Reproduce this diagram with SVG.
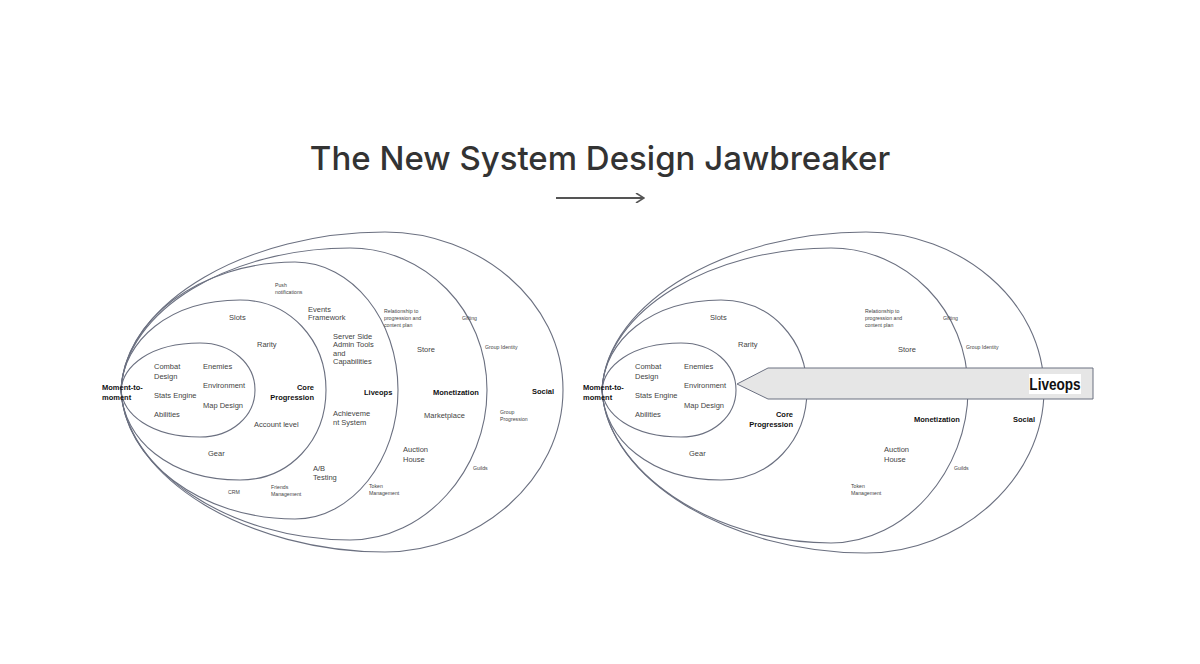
<svg xmlns="http://www.w3.org/2000/svg" width="1200" height="664" viewBox="0 0 1200 664">
<style>
.l{fill:none;stroke:#6b7080;stroke-width:1.1}
text{font-family:"Liberation Sans",Arial,sans-serif;fill:#444}
.t{font-size:7.5px}
.s{font-size:5.2px}
.b{font-size:7.5px;font-weight:bold;fill:#111}
</style>
<defs>
<marker id="ah" markerWidth="10" markerHeight="10" refX="9" refY="5" orient="auto" markerUnits="userSpaceOnUse"><path d="M1,0 L9,5 L1,10" fill="none" stroke="#555" stroke-width="1.6"/></marker>
</defs>
<rect width="1200" height="664" fill="#fff"/>
<text x="600" y="170" text-anchor="middle" style="font-family:Inter,'Liberation Sans',sans-serif;font-size:33px;font-weight:500;fill:#333">The New System Design Jawbreaker</text>
<g id="connectors"><line x1="556" y1="198" x2="644" y2="198" stroke="#555" stroke-width="1.8" marker-end="url(#ah)"/></g>
<g id="left-diagram">
<path class="l" d="M121,390 C123,366 150,343 200,343 C232,343 255,364 255,390 C255,416 232,437 200,437 C150,437 123,414 121,390Z"/>
<path class="l" d="M121,390 C123,340 170,300 240,300 C290,300 326,340 326,390 C326,440 290,480 240,480 C170,480 123,440 121,390Z"/>
<path class="l" d="M121,390 C124,320 200,262 295,262 C352,262 398,320 398,390 C398,460 352,519 295,519 C200,519 124,460 121,390Z"/>
<path class="l" d="M121,390 C125,310 230,248 350,248 C425,248 487,310 487,390 C487,470 425,540 350,540 C230,540 125,470 121,390Z"/>
<path class="l" d="M121,390 C126,300 250,232 385,232 C478,232 563,300 563,390 C563,480 478,552 385,552 C250,552 126,480 121,390Z"/>
<text class="b" x="102" y="390">Moment-to-</text><text class="b" x="102" y="400">moment</text>
<text class="t" x="154" y="369">Combat</text><text class="t" x="154" y="379">Design</text>
<text class="t" x="154" y="398">Stats Engine</text><text class="t" x="154" y="417">Abilities</text>
<text class="t" x="203" y="369">Enemies</text><text class="t" x="203" y="388">Environment</text><text class="t" x="203" y="408">Map Design</text>
<text class="t" x="229" y="320">Slots</text><text class="t" x="257" y="347">Rarity</text>
<text class="t" x="254" y="427">Account level</text><text class="t" x="208" y="456">Gear</text>
<text class="b" x="314" y="390" text-anchor="end">Core</text><text class="b" x="314" y="400" text-anchor="end">Progression</text>
<text class="s" x="275" y="287">Push</text><text class="s" x="275" y="294">notifications</text>
<text class="t" x="308" y="312">Events</text><text class="t" x="308" y="320">Framework</text>
<text class="t" x="333" y="339">Server Side</text><text class="t" x="333" y="347">Admin Tools</text><text class="t" x="333" y="356">and</text><text class="t" x="333" y="364">Capabilities</text>
<text class="b" x="364" y="395">Liveops</text>
<text class="t" x="333" y="416">Achieveme</text><text class="t" x="333" y="425">nt System</text>
<text class="t" x="313" y="471">A/B</text><text class="t" x="313" y="480">Testing</text>
<text class="s" x="228" y="494">CRM</text><text class="s" x="271" y="489">Friends</text><text class="s" x="271" y="496">Management</text>
<text class="s" x="384" y="313">Relationship to</text><text class="s" x="384" y="320">progression and</text><text class="s" x="384" y="327">content plan</text>
<text class="t" x="417" y="352">Store</text><text class="t" x="424" y="418">Marketplace</text>
<text class="t" x="403" y="452">Auction</text><text class="t" x="403" y="462">House</text>
<text class="b" x="433" y="395">Monetization</text>
<text class="s" x="369" y="488">Token</text><text class="s" x="369" y="495">Management</text>
<text class="s" x="462" y="320">Gifting</text><text class="s" x="485" y="349">Group Identity</text>
<text class="s" x="500" y="414">Group</text><text class="s" x="500" y="421">Progression</text>
<text class="s" x="473" y="470">Guilds</text><text class="b" x="532" y="394">Social</text>
</g>
<g id="right-diagram">
<path class="l" d="M602,390 C604,366 631,343 681,343 C713,343 736,364 736,390 C736,416 713,437 681,437 C631,437 604,414 602,390Z"/>
<path class="l" d="M602,390 C604,340 651,300 721,300 C771,300 807,340 807,390 C807,440 771,480 721,480 C651,480 604,440 602,390Z"/>
<path class="l" d="M602,390 C606,310 711,248 831,248 C906,248 968,310 968,390 C968,470 906,543 831,543 C711,543 606,470 602,390Z"/>
<path class="l" d="M602,390 C607,300 731,232 866,232 C959,232 1044,300 1044,390 C1044,480 959,553 866,553 C731,553 607,480 602,390Z"/>
<text class="b" x="583" y="390">Moment-to-</text><text class="b" x="583" y="400">moment</text>
<text class="t" x="635" y="369">Combat</text><text class="t" x="635" y="379">Design</text>
<text class="t" x="635" y="398">Stats Engine</text><text class="t" x="635" y="417">Abilities</text>
<text class="t" x="684" y="369">Enemies</text><text class="t" x="684" y="388">Environment</text><text class="t" x="684" y="408">Map Design</text>
<text class="t" x="710" y="320">Slots</text><text class="t" x="738" y="347">Rarity</text>
<text class="t" x="689" y="456">Gear</text>
<text class="b" x="793" y="417" text-anchor="end">Core</text><text class="b" x="793" y="427" text-anchor="end">Progression</text>
<text class="s" x="865" y="313">Relationship to</text><text class="s" x="865" y="320">progression and</text><text class="s" x="865" y="327">content plan</text>
<text class="t" x="898" y="352">Store</text>
<text class="t" x="884" y="452">Auction</text><text class="t" x="884" y="462">House</text>
<text class="b" x="914" y="422">Monetization</text>
<text class="s" x="851" y="488">Token</text><text class="s" x="851" y="495">Management</text>
<text class="s" x="943" y="320">Gifting</text><text class="s" x="966" y="349">Group Identity</text>
<text class="s" x="954" y="470">Guilds</text><text class="b" x="1013" y="422">Social</text>
</g>
<g id="liveops-arrow">
<polygon points="737,384 768,368 1093,368 1093,399 768,399" fill="#e6e6e6" stroke="#6b7080" stroke-width="1"/>
<rect x="1029" y="374" width="52" height="20" fill="#fff"/>
<text transform="translate(1055,390) scale(0.8,1)" text-anchor="middle" style="font-size:17px;font-weight:bold;fill:#111">Liveops</text>
</g>
</svg>
